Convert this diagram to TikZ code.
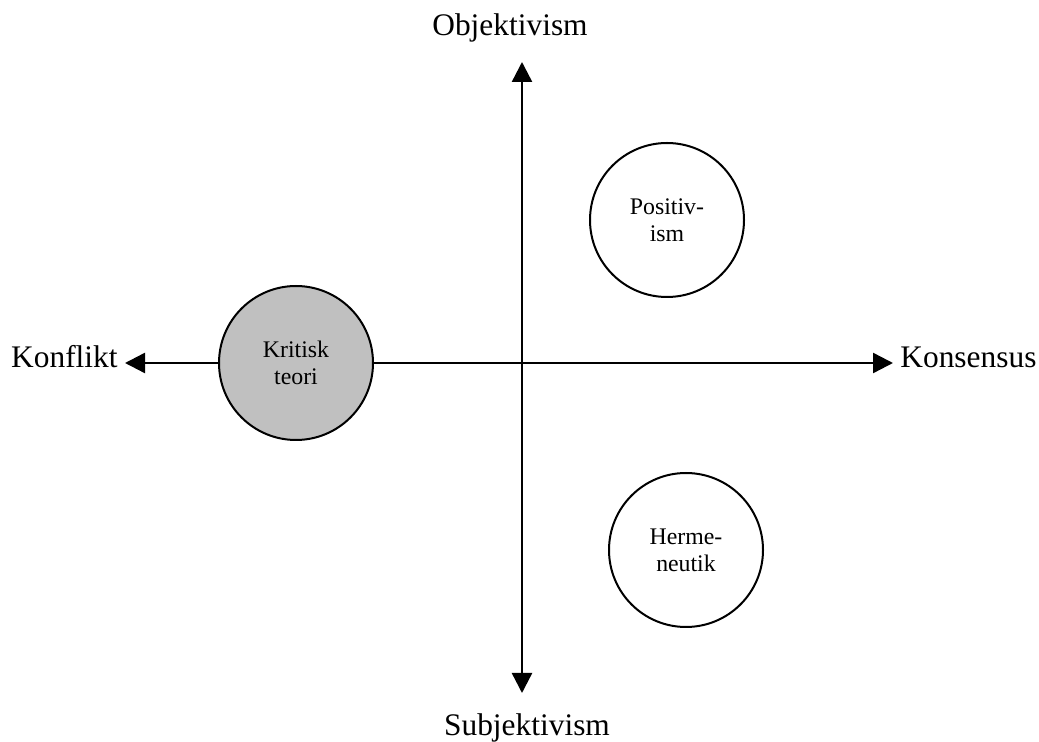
\documentclass[tikz,border=0pt]{standalone}
\usepackage{fontspec}
\setmainfont{Liberation Serif}
\usepackage{tikz}
\usetikzlibrary{arrows.meta}
\definecolor{kgray}{HTML}{C0C0C0}
\tikzstyle{axis} = [line width=1.2pt, {Triangle[length=10pt,width=10pt]}-{Triangle[length=10pt,width=10pt]}]
\tikzstyle{pole} = [inner sep=0pt, font=\fontsize{15.7}{18}\selectfont]
\tikzstyle{school} = [circle, draw, line width=1pt, minimum size=77pt, inner sep=0pt, align=center, font=\fontsize{11.9}{13.5}\selectfont]

\begin{document}
\begin{tikzpicture}[x=0.5pt, y=-0.5pt]
    \useasboundingbox (0,0) rectangle (1039,742);

    % axis ends
    \coordinate (west) at (125,363);
    \coordinate (east) at (893,363);
    \coordinate (north) at (522,62);
    \coordinate (south) at (522,693);
    % axes
    \draw[axis] (west) -- (east);
    \draw[axis] (north) -- (south);

    % poles
    \node[pole, anchor=base east] (konflikt) at (118,368) {Konflikt};
    \node[pole, anchor=base west] (konsensus) at (900,368) {Konsensus};
    \node[pole, anchor=base] (objektivism) at (510,36) {Objektivism};
    \node[pole, anchor=base] (subjektivism) at (527,735) {Subjektivism};

    % schools
    \node[school, fill=kgray] (kritisk) at (296,363) {Kritisk\\teori};
    \node[school] (positivism) at (667,220) {Positiv-\\ism};
    \node[school] (hermeneutik) at (686,550) {Herme-\\neutik};
\end{tikzpicture}
\end{document}
